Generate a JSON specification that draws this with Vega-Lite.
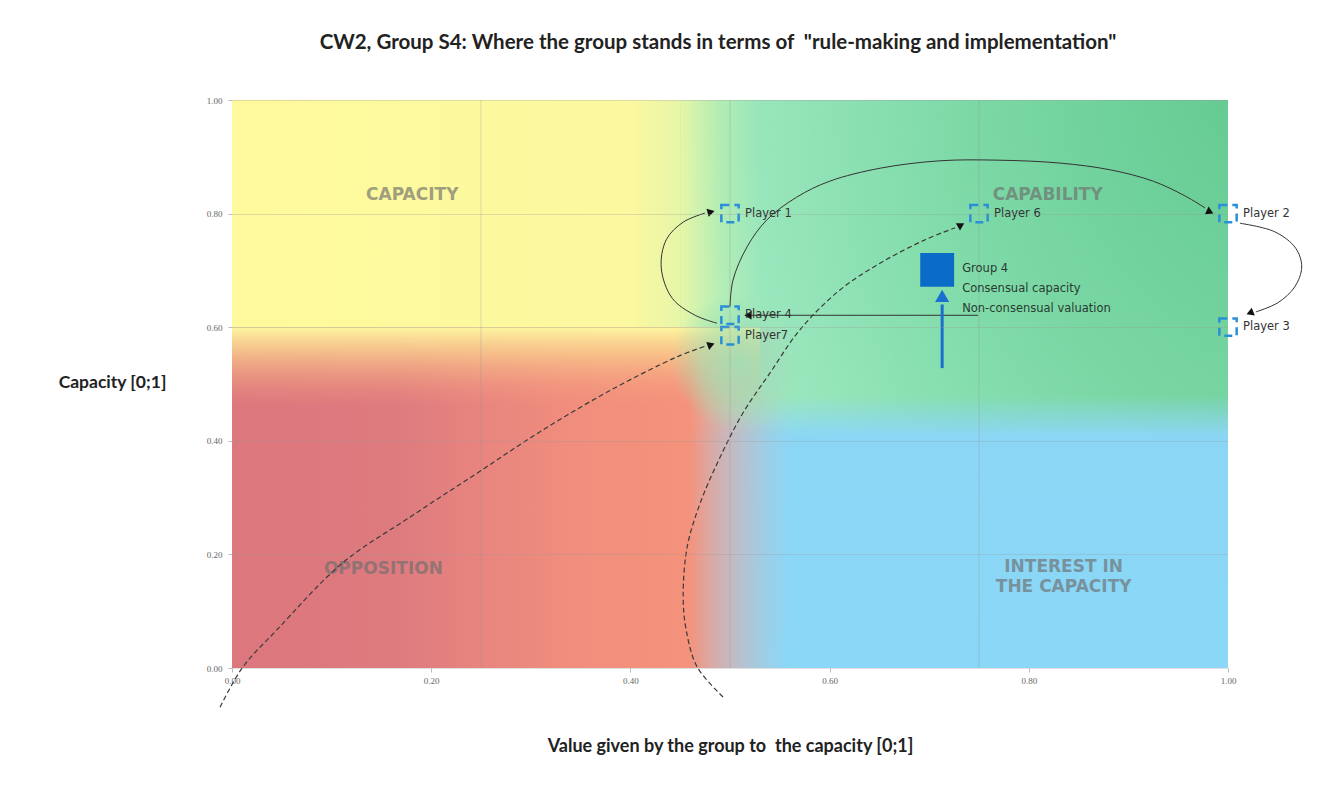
{
  "$schema": "https://vega.github.io/schema/vega-lite/v6.json",
  "width": 996,
  "height": 568,
  "autosize": {"type": "none"},
  "padding": {"left": 232, "top": 100, "right": 115, "bottom": 126},
  "background": "white",
  "config": {"view": {"stroke": null}},
  "title": {
    "text": "CW2, Group S4: Where the group stands in terms of \u00a0\"rule-making and implementation\"",
    "font": "Lato", "fontSize": 20.5, "fontWeight": "bold", "color": "#222222",
    "anchor": "middle", "offset": 43, "dx": -12
  },
  "datasets": {
    "curves": [
      {"curve": "c1", "i": 0, "x": 0.487, "y": 0.607},
      {"curve": "c1", "i": 1, "x": 0.465, "y": 0.621},
      {"curve": "c1", "i": 2, "x": 0.442, "y": 0.651},
      {"curve": "c1", "i": 3, "x": 0.431, "y": 0.704},
      {"curve": "c1", "i": 4, "x": 0.436, "y": 0.754},
      {"curve": "c1", "i": 5, "x": 0.453, "y": 0.785},
      {"curve": "c1", "i": 6, "x": 0.475, "y": 0.801},
      {"curve": "c2", "i": 0, "x": 0.500, "y": 0.636},
      {"curve": "c2", "i": 1, "x": 0.503, "y": 0.683},
      {"curve": "c2", "i": 2, "x": 0.517, "y": 0.741},
      {"curve": "c2", "i": 3, "x": 0.537, "y": 0.789},
      {"curve": "c2", "i": 4, "x": 0.567, "y": 0.829},
      {"curve": "c2", "i": 5, "x": 0.600, "y": 0.857},
      {"curve": "c2", "i": 6, "x": 0.651, "y": 0.880},
      {"curve": "c2", "i": 7, "x": 0.711, "y": 0.893},
      {"curve": "c2", "i": 8, "x": 0.771, "y": 0.894},
      {"curve": "c2", "i": 9, "x": 0.831, "y": 0.889},
      {"curve": "c2", "i": 10, "x": 0.882, "y": 0.877},
      {"curve": "c2", "i": 11, "x": 0.925, "y": 0.857},
      {"curve": "c2", "i": 12, "x": 0.957, "y": 0.831},
      {"curve": "c2", "i": 13, "x": 0.977, "y": 0.810},
      {"curve": "c3", "i": 0, "x": 1.012, "y": 0.783},
      {"curve": "c3", "i": 1, "x": 1.047, "y": 0.768},
      {"curve": "c3", "i": 2, "x": 1.068, "y": 0.739},
      {"curve": "c3", "i": 3, "x": 1.074, "y": 0.706},
      {"curve": "c3", "i": 4, "x": 1.067, "y": 0.671},
      {"curve": "c3", "i": 5, "x": 1.050, "y": 0.643},
      {"curve": "c3", "i": 6, "x": 1.028, "y": 0.627},
      {"curve": "c4", "i": 0, "x": 0.749, "y": 0.621},
      {"curve": "c4", "i": 1, "x": 0.520, "y": 0.621},
      {"curve": "c5", "i": 0, "x": -0.012, "y": -0.069},
      {"curve": "c5", "i": 1, "x": 0.011, "y": 0.002},
      {"curve": "c5", "i": 2, "x": 0.045, "y": 0.067},
      {"curve": "c5", "i": 3, "x": 0.111, "y": 0.185},
      {"curve": "c5", "i": 4, "x": 0.179, "y": 0.266},
      {"curve": "c5", "i": 5, "x": 0.246, "y": 0.343},
      {"curve": "c5", "i": 6, "x": 0.312, "y": 0.419},
      {"curve": "c5", "i": 7, "x": 0.380, "y": 0.489},
      {"curve": "c5", "i": 8, "x": 0.447, "y": 0.548},
      {"curve": "c5", "i": 9, "x": 0.476, "y": 0.567},
      {"curve": "c6", "i": 0, "x": 0.493, "y": -0.051},
      {"curve": "c6", "i": 1, "x": 0.467, "y": 0.002},
      {"curve": "c6", "i": 2, "x": 0.456, "y": 0.067},
      {"curve": "c6", "i": 3, "x": 0.453, "y": 0.125},
      {"curve": "c6", "i": 4, "x": 0.457, "y": 0.213},
      {"curve": "c6", "i": 5, "x": 0.470, "y": 0.290},
      {"curve": "c6", "i": 6, "x": 0.490, "y": 0.371},
      {"curve": "c6", "i": 7, "x": 0.513, "y": 0.449},
      {"curve": "c6", "i": 8, "x": 0.540, "y": 0.519},
      {"curve": "c6", "i": 9, "x": 0.570, "y": 0.595},
      {"curve": "c6", "i": 10, "x": 0.610, "y": 0.665},
      {"curve": "c6", "i": 11, "x": 0.651, "y": 0.713},
      {"curve": "c6", "i": 12, "x": 0.696, "y": 0.754},
      {"curve": "c6", "i": 13, "x": 0.726, "y": 0.775}
    ],
    "heads": [
      {"head": "P1", "x": 0.481, "y": 0.803},
      {"head": "P7", "x": 0.481, "y": 0.569},
      {"head": "P6", "x": 0.732, "y": 0.780},
      {"head": "P2", "x": 0.982, "y": 0.803},
      {"head": "P3", "x": 1.022, "y": 0.625},
      {"head": "P4", "x": 0.518, "y": 0.621},
      {"head": "G", "x": 0.713, "y": 0.655}
    ],
    "players": [
      {"name": "Player 1", "x": 0.5, "y": 0.80},
      {"name": "Player 6", "x": 0.75, "y": 0.80},
      {"name": "Player 2", "x": 1.0, "y": 0.80},
      {"name": "Player 3", "x": 1.0, "y": 0.60},
      {"name": "Player 4", "x": 0.5, "y": 0.621},
      {"name": "Player7", "x": 0.5, "y": 0.585}
    ],
    "zonelabels": [
      {"label": "CAPACITY", "x": 0.181, "y": 0.833},
      {"label": "CAPABILITY", "x": 0.819, "y": 0.833},
      {"label": "OPPOSITION", "x": 0.152, "y": 0.174},
      {"label": "INTEREST IN\nTHE CAPACITY", "x": 0.835, "y": 0.178}
    ]
  },
  "encoding": {
    "x": {
      "field": "x", "type": "quantitative",
      "scale": {"domain": [0, 1], "nice": false, "zero": false},
      "axis": {
        "values": [0, 0.2, 0.4, 0.6, 0.8, 1], "format": ".2f",
        "grid": false, "domain": false, "ticks": true, "tickSize": 4, "tickColor": "#bbbbbb",
        "labelFont": "Liberation Serif", "labelFontSize": 9, "labelColor": "#666666",
        "labelPadding": 4, "labelFlush": false, "labelOverlap": false,
        "title": "Value given by the group to \u00a0the capacity [0;1]",
        "titleFont": "Lato", "titleFontSize": 18, "titleFontWeight": "bold", "titleColor": "#222222",
        "titleY": 78, "titleBaseline": "middle"
      }
    },
    "y": {
      "field": "y", "type": "quantitative",
      "scale": {"domain": [0, 1], "nice": false, "zero": false},
      "axis": {
        "values": [0, 0.2, 0.4, 0.6, 0.8, 1], "format": ".2f",
        "grid": true, "gridColor": "#999999", "gridOpacity": 0.3,
        "domain": false, "ticks": true, "tickSize": 4, "tickColor": "#bbbbbb",
        "labelFont": "Liberation Serif", "labelFontSize": 9, "labelColor": "#666666",
        "labelPadding": 6, "labelFlush": false, "labelOverlap": false,
        "title": "Capacity [0;1]", "titleAngle": 0, "titleX": -120, "titleY": 282,
        "titleAlign": "center", "titleBaseline": "middle",
        "titleFont": "Lato", "titleFontSize": 17.5, "titleFontWeight": "bold", "titleColor": "#222222",
        "zindex": 1
      }
    }
  },
  "layer": [
    {
      "data": {"values": [{"x": 0, "x2": 1, "y": 0.40, "y2": 1}]},
      "mark": {"type": "rect", "color": {"gradient": "linear", "x1": 0, "y1": 0, "x2": 1, "y2": 0, "stops": [
        {"offset": 0, "color": "#fefa9c"},
        {"offset": 0.40, "color": "#fcf8a0"},
        {"offset": 0.45, "color": "#e6f6a8"},
        {"offset": 0.49, "color": "#b6eeb6"},
        {"offset": 0.53, "color": "#9ee9c0"},
        {"offset": 0.75, "color": "#8ee3b6"},
        {"offset": 1, "color": "#84dcad"}
      ]}},
      "encoding": {"x2": {"field": "x2"}, "y2": {"field": "y2"}}
    },
    {
      "data": {"values": [{"x": 0.45, "x2": 1, "y": 0.035, "y2": 1}]},
      "mark": {"type": "rect", "color": {"gradient": "radial", "x1": 1, "y1": 0, "r1": 0, "x2": 1, "y2": 0, "r2": 1, "stops": [
        {"offset": 0, "color": "rgba(60,180,110,0.42)"},
        {"offset": 1, "color": "rgba(60,180,110,0)"}
      ]}},
      "encoding": {"x2": {"field": "x2"}, "y2": {"field": "y2"}}
    },
    {
      "data": {"values": [{"x": 0.46, "x2": 1, "y": 0, "y2": 0.48}]},
      "mark": {"type": "rect", "color": {"gradient": "linear", "x1": 0, "y1": 0, "x2": 0, "y2": 1, "stops": [
        {"offset": 0, "color": "rgba(140,214,245,0)"},
        {"offset": 0.15, "color": "#8cd6f5"},
        {"offset": 1, "color": "#8ad7f7"}
      ]}},
      "encoding": {"x2": {"field": "x2"}, "y2": {"field": "y2"}}
    },
    {
      "data": {"values": [{"x": 0, "x2": 0.56, "y": 0, "y2": 0.6}]},
      "mark": {"type": "rect", "color": {"gradient": "linear", "x1": 0, "y1": 0, "x2": 1, "y2": 0, "stops": [
        {"offset": 0, "color": "#dc777d"},
        {"offset": 0.3, "color": "#de7b7f"},
        {"offset": 0.45, "color": "#e8857f"},
        {"offset": 0.6, "color": "#f08d7d"},
        {"offset": 0.82, "color": "#f5927b"},
        {"offset": 0.9, "color": "rgba(228,170,165,0.6)"},
        {"offset": 1, "color": "rgba(200,190,200,0)"}
      ]}},
      "encoding": {"x2": {"field": "x2"}, "y2": {"field": "y2"}}
    },
    {
      "data": {"values": [{"x": 0, "x2": 0.53, "y": 0.46, "y2": 0.6}]},
      "mark": {"type": "rect", "color": {"gradient": "linear", "x1": 0, "y1": 0, "x2": 0, "y2": 1, "stops": [
        {"offset": 0, "color": "rgba(253,246,160,1)"},
        {"offset": 0.35, "color": "rgba(250,205,140,0.75)"},
        {"offset": 1, "color": "rgba(246,150,125,0)"}
      ]}},
      "encoding": {"x2": {"field": "x2"}, "y2": {"field": "y2"}}
    },
    {
      "data": {"values": [{"x": 0.44, "x2": 0.58, "y": 0.4175, "y2": 0.6625}]},
      "mark": {"type": "rect", "color": {"gradient": "radial", "x1": 0.5, "y1": 0.5, "r1": 0, "x2": 0.5, "y2": 0.5, "r2": 0.5, "stops": [
        {"offset": 0, "color": "rgba(155,224,182,0.85)"},
        {"offset": 0.55, "color": "rgba(155,224,182,0.55)"},
        {"offset": 1, "color": "rgba(155,224,182,0)"}
      ]}},
      "encoding": {"x2": {"field": "x2"}, "y2": {"field": "y2"}}
    },
    {
      "data": {"values": [{"x": 0.25, "y": 0, "y2": 1}, {"x": 0.5, "y": 0, "y2": 1}, {"x": 0.75, "y": 0, "y2": 1}]},
      "mark": {"type": "rule", "color": "#8a8a8a", "opacity": 0.3, "strokeWidth": 1},
      "encoding": {"y2": {"field": "y2"}}
    },
    {
      "data": {"name": "zonelabels"},
      "mark": {"type": "text", "font": "DejaVu Sans", "fontWeight": "bold", "fontSize": 17, "fill": "#6e6e6e", "opacity": 0.65, "align": "center", "baseline": "top", "dy": -8, "lineBreak": "\n", "lineHeight": 20},
      "encoding": {"text": {"field": "label"}}
    },
    {
      "data": {"name": "curves"},
      "transform": [{"filter": "datum.curve === 'c1' || datum.curve === 'c2' || datum.curve === 'c3' || datum.curve === 'c4'"}],
      "mark": {"type": "line", "interpolate": "catmull-rom", "color": "#333333", "strokeWidth": 1, "clip": false},
      "encoding": {"detail": {"field": "curve"}, "order": {"field": "i", "type": "quantitative"}}
    },
    {
      "data": {"name": "curves"},
      "transform": [{"filter": "datum.curve === 'c5' || datum.curve === 'c6'"}],
      "mark": {"type": "line", "interpolate": "catmull-rom", "color": "#3a3a3a", "strokeWidth": 1.2, "strokeDash": [5, 3], "clip": false},
      "encoding": {"detail": {"field": "curve"}, "order": {"field": "i", "type": "quantitative"}}
    },
    {
      "data": {"name": "heads"},
      "transform": [{"filter": "datum.head === 'P1'"}],
      "mark": {"type": "point", "shape": "triangle-right", "filled": true, "color": "#111111", "opacity": 1, "size": 70, "angle": 345},
      "encoding": {}
    },
    {
      "data": {"name": "heads"},
      "transform": [{"filter": "datum.head === 'P7'"}],
      "mark": {"type": "point", "shape": "triangle-right", "filled": true, "color": "#111111", "opacity": 1, "size": 70, "angle": 340},
      "encoding": {}
    },
    {
      "data": {"name": "heads"},
      "transform": [{"filter": "datum.head === 'P6'"}],
      "mark": {"type": "point", "shape": "triangle-right", "filled": true, "color": "#111111", "opacity": 1, "size": 70, "angle": 330},
      "encoding": {}
    },
    {
      "data": {"name": "heads"},
      "transform": [{"filter": "datum.head === 'P2'"}],
      "mark": {"type": "point", "shape": "triangle-right", "filled": true, "color": "#111111", "opacity": 1, "size": 70, "angle": 25},
      "encoding": {}
    },
    {
      "data": {"name": "heads"},
      "transform": [{"filter": "datum.head === 'P3'"}],
      "mark": {"type": "point", "shape": "triangle-right", "filled": true, "color": "#111111", "opacity": 1, "size": 70, "angle": 158},
      "encoding": {}
    },
    {
      "data": {"name": "heads"},
      "transform": [{"filter": "datum.head === 'P4'"}],
      "mark": {"type": "point", "shape": "triangle-right", "filled": true, "color": "#111111", "opacity": 1, "size": 70, "angle": 180},
      "encoding": {}
    },
    {
      "data": {"values": [{"x": 0.713, "y": 0.528}, {"x": 0.713, "y": 0.640}]},
      "mark": {"type": "line", "color": "#1a6fd0", "strokeWidth": 3},
      "encoding": {}
    },
    {
      "data": {"name": "heads"},
      "transform": [{"filter": "datum.head === 'G'"}],
      "mark": {"type": "point", "shape": "triangle-right", "filled": true, "color": "#1a6fd0", "opacity": 1, "size": 200, "angle": 270},
      "encoding": {}
    },
    {
      "data": {"name": "players"},
      "mark": {"type": "point", "shape": "square", "filled": false, "stroke": "#2a8fd8", "strokeWidth": 2.5, "strokeDash": [8, 5], "size": 300, "opacity": 1},
      "encoding": {}
    },
    {
      "data": {"name": "players"},
      "mark": {"type": "text", "font": "DejaVu Sans", "fontSize": 11.5, "color": "#333333", "align": "left", "baseline": "middle", "dx": 15},
      "encoding": {"text": {"field": "name"}}
    },
    {
      "data": {"values": [{"name": "Group 4", "x": 0.708, "y": 0.701}]},
      "mark": {"type": "point", "shape": "square", "filled": true, "color": "#0b6cc8", "opacity": 1, "size": 1150},
      "encoding": {}
    },
    {
      "data": {"values": [{"name": "Group 4", "desc": "Group 4\nConsensual capacity\nNon-consensual valuation", "x": 0.708, "y": 0.701}]},
      "mark": {"type": "text", "font": "DejaVu Sans", "fontSize": 11.5, "color": "#2a3a30", "align": "left", "baseline": "top", "dx": 25, "dy": -7, "lineBreak": "\n", "lineHeight": 20},
      "encoding": {"text": {"field": "desc"}}
    }
  ]
}
